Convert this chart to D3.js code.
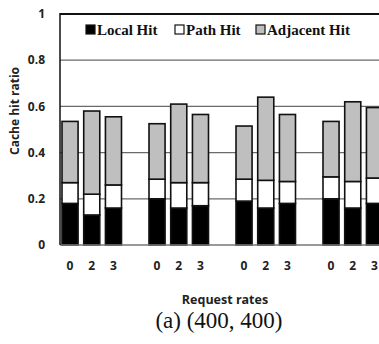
<!DOCTYPE html>
<html>
<head>
<meta charset="utf-8">
<script src="https://cdn.jsdelivr.net/npm/d3@7"></script>
<style>
  body { margin: 0; background: #fff; }
  svg { display: block; }
  .tick-lbl { font-family: 'Open Sans', sans-serif; font-weight: bold; font-size: 12px; fill: #222; }
</style>
</head>
<body>
<svg width="379" height="344"></svg>
<script>
'use strict';

// groups of request rates (four configurations, three rates each)
var groups = ['g1', 'g2', 'g3', 'g4'];
var rates = ['0', '2', '3'];
var series = ['Local Hit', 'Path Hit', 'Adjacent Hit'];
var yTicks = [0, 0.2, 0.4, 0.6, 0.8, 1];

// per-segment values
var localHit =    [0.18, 0.13, 0.16,  0.20, 0.16, 0.17,  0.19, 0.16, 0.18,  0.20, 0.16, 0.18];
var pathHit =     [0.09, 0.09, 0.10,  0.085, 0.11, 0.10, 0.095, 0.12, 0.095, 0.095, 0.115, 0.11];
var adjacentHit = [0.265, 0.36, 0.295, 0.24, 0.34, 0.295, 0.23, 0.36, 0.29, 0.24, 0.345, 0.305];

var colors = ['#000000', '#ffffff', '#bfbfbf'];

var svg = d3.select('svg');
var margin = {left: 60, top: 14, bottom: 99};
var plotW = 348;
var height = 344 - margin.top - margin.bottom;

var x0 = d3.scaleBand().domain(groups).range([0, plotW]);
var x1 = d3.scaleBand().domain(rates).range([2, 61.5]).paddingInner(0.26).paddingOuter(0);
var y = d3.scaleLinear().domain([0, 1]).range([height, 0]);

var g = svg.append('g')
  .attr('transform', 'translate(' + margin.left + ',' + margin.top + ')');

// grid lines
g.selectAll('.grid')
  .data(yTicks.filter(function(d) { return d > 0 && d < 1; }))
  .enter().append('line')
  .attr('x1', 0).attr('x2', plotW)
  .attr('y1', y).attr('y2', y)
  .attr('stroke', '#6a6a6a').attr('stroke-width', 1.2);

// top border
g.append('line')
  .attr('x1', 0).attr('x2', plotW)
  .attr('y1', y(1)).attr('y2', y(1))
  .attr('stroke', '#111').attr('stroke-width', 2);

// rows for stacking
var rows = [];
groups.forEach(function(gr, gi) {
  rates.forEach(function(r, ri) {
    var i = gi * 3 + ri;
    rows.push({group: gr, rate: r, 'Local Hit': localHit[i], 'Path Hit': pathHit[i], 'Adjacent Hit': adjacentHit[i]});
  });
});

var stacked = d3.stack().keys(series)(rows);

g.selectAll('.layer')
  .data(stacked)
  .enter().append('g')
  .attr('fill', function(d, i) { return colors[i]; })
  .selectAll('rect')
  .data(function(d) { return d; })
  .enter().append('rect')
  .attr('x', function(d) { return x0(d.data.group) + x1(d.data.rate); })
  .attr('y', function(d) { return y(d[1]); })
  .attr('width', x1.bandwidth())
  .attr('height', function(d) { return y(d[0]) - y(d[1]); })
  .attr('stroke', '#111')
  .attr('stroke-width', 1.6);

// bottom axis line
g.append('line')
  .attr('x1', 0).attr('x2', plotW)
  .attr('y1', height).attr('y2', height)
  .attr('stroke', '#777').attr('stroke-width', 1.5);

// left axis line
g.append('line')
  .attr('x1', 0).attr('x2', 0)
  .attr('y1', y(1) - 1).attr('y2', height)
  .attr('stroke', '#111').attr('stroke-width', 1.5);

// y tick labels
g.selectAll('.ylbl')
  .data(yTicks)
  .enter().append('text')
  .attr('class', 'tick-lbl')
  .attr('x', -15)
  .attr('y', y)
  .attr('dy', '0.35em')
  .attr('text-anchor', 'end')
  .text(function(d) { return d3.format('~g')(d); });

// x tick labels
g.selectAll('.xlbl')
  .data(rows)
  .enter().append('text')
  .attr('class', 'tick-lbl')
  .attr('x', function(d) { return x0(d.group) + x1(d.rate) + x1.bandwidth() / 2; })
  .attr('y', height + 25)
  .attr('text-anchor', 'middle')
  .text(function(d) { return d.rate; });

// axis titles
svg.append('text')
  .attr('transform', 'translate(19,111) rotate(-90)')
  .attr('text-anchor', 'middle')
  .style('font-family', "'Open Sans', sans-serif")
  .style('font-weight', 'bold')
  .style('font-size', '12px')
  .attr('fill', '#222')
  .text('Cache hit ratio');

svg.append('text')
  .attr('x', 225).attr('y', 304)
  .attr('text-anchor', 'middle')
  .style('font-family', "'Open Sans', sans-serif")
  .style('font-weight', 'bold')
  .style('font-size', '12.5px')
  .attr('fill', '#222')
  .text('Request rates');

svg.append('text')
  .attr('x', 219).attr('y', 328)
  .attr('text-anchor', 'middle')
  .style('font-family', "'Liberation Serif', 'DejaVu Serif', serif")
  .style('font-size', '23px')
  .attr('fill', '#111')
  .text('(a) (400, 400)');

// legend
var legendX = [86, 175, 256];
var item = svg.append('g')
  .selectAll('g')
  .data(series)
  .enter().append('g')
  .attr('transform', function(d, i) { return 'translate(' + legendX[i] + ',35)'; });
item.append('rect')
  .attr('x', 0).attr('y', -10)
  .attr('width', 9).attr('height', 9)
  .attr('fill', function(d, i) { return colors[i]; })
  .attr('stroke', '#111').attr('stroke-width', 1.2);
item.append('text')
  .attr('x', 11).attr('y', 0)
  .style('font-family', "'Liberation Serif', 'DejaVu Serif', serif")
  .style('font-weight', 'bold')
  .style('font-size', '15px')
  .attr('fill', '#111')
  .text(function(d) { return d; });
</script>
</body>
</html>
